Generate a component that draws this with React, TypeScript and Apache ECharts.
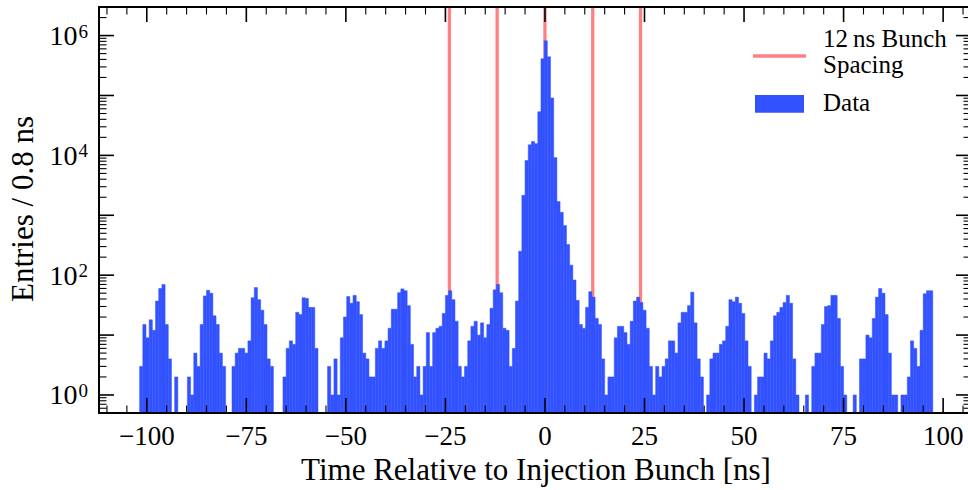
import React, { useEffect, useRef } from "react";
import * as echarts from "echarts";

// ---------------- data ----------------
const BIN_START = -101.8; // ns, left edge of first bin
const BIN_WIDTH = 0.8; // ns
// entries per 0.8 ns bin (249 bins)
const counts: number[] = [
  3, 15, 9, 18, 12, 37, 60, 70, 15, 4,
  0, 2, 0, 0, 0, 2, 1, 5, 3, 15,
  45, 56, 50, 21, 15, 5, 3, 0, 0, 3,
  5, 6, 6, 5, 8, 42, 62, 39, 26, 15,
  4, 3, 0, 0, 0, 2, 6, 8, 7, 24,
  22, 42, 41, 29, 29, 6, 0, 0, 0, 3,
  1, 4, 1, 9, 20, 44, 34, 46, 36, 22,
  5, 4, 2, 2, 6, 8, 6, 8, 13, 27,
  27, 51, 59, 55, 31, 7, 2, 3, 1, 3,
  11, 3, 11, 13, 14, 23, 46, 55, 39, 17,
  3, 2, 3, 8, 14, 17, 10, 16, 9, 15,
  28, 57, 70, 51, 13, 12, 3, 6, 37, 251,
  2150, 8200, 15000, 17000, 15700, 53500, 410000, 816000, 442000, 90600,
  9160, 1690, 1120, 673, 325, 147, 83, 38, 15, 13,
  29, 53, 43, 19, 15, 4, 1, 2, 2, 9,
  14, 14, 11, 7, 17, 37, 43, 35, 26, 13,
  3, 1, 3, 2, 3, 4, 8, 8, 5, 16,
  24, 24, 31, 52, 16, 4, 2, 0, 1, 4,
  5, 5, 7, 8, 14, 39, 36, 43, 34, 23,
  8, 3, 0, 1, 2, 2, 5, 4, 8, 21,
  24, 29, 35, 46, 34, 4, 1, 0, 0, 1,
  0, 3, 5, 5, 15, 30, 31, 46, 46, 19,
  3, 1, 0, 0, 1, 0, 4, 4, 10, 9,
  19, 43, 60, 50, 22, 5, 1, 1, 0, 1,
  1, 2, 8, 6, 3, 12, 49, 55, 55,
];
const bunchLines = [-24, -12, 0, 12, 24];
const xMajorTicks = [-100, -75, -50, -25, 0, 25, 50, 75, 100];
const xMinorTicks = [
  -110, -105, -95, -90, -85, -80, -70, -65, -60, -55, -45, -40, -35, -30, -20,
  -15, -10, -5, 5, 10, 15, 20, 30, 35, 40, 45, 55, 60, 65, 70, 80, 85, 90, 95, 105,
];
const yLabelExponents = [0, 2, 4, 6];
const yMajorTicks = [1, 10, 100, 1000, 10000, 100000, 1000000];
const yMinorTicks = [
  0.6, 0.7, 0.8, 0.9,
  2, 3, 4, 5, 6, 7, 8, 9,
  20, 30, 40, 50, 60, 70, 80, 90,
  200, 300, 400, 500, 600, 700, 800, 900,
  2000, 3000, 4000, 5000, 6000, 7000, 8000, 9000,
  20000, 30000, 40000, 50000, 60000, 70000, 80000, 90000,
  200000, 300000, 400000, 500000, 600000, 700000, 800000, 900000,
  2000000,
];
const X_MIN = -112;
const X_MAX = 107;
const Y_MIN = 0.5;
const Y_MAX = 3e6;
const xTitle = "Time Relative to Injection Bunch [ns]";
const yTitle = "Entries / 0.8 ns";
const legendLineLabel = ["12\u2009ns Bunch", "Spacing"];
const legendBarLabel = "Data";

// ---------------- style ----------------
const SERIF = '"Liberation Serif", "Times New Roman", serif';
const BLUE = "#3352ff";
const RED = "#ff8080";

function fmtX(v: number) {
  return v < 0 ? "\u2212" + Math.abs(v) : String(v);
}

export default function App() {
  const ref = useRef<HTMLDivElement>(null);

  useEffect(() => {
    if (!ref.current) return;
    const chart = echarts.init(ref.current, undefined, { renderer: "svg" });

    const barData = counts
      .map((c, i) => [BIN_START + i * BIN_WIDTH, BIN_START + (i + 1) * BIN_WIDTH, c])
      .filter((d) => d[2] > 0);

    const textStyle = (text: string, size: number, align: string) => ({
      text,
      font: `${size}px ${SERIF}`,
      fill: "#000",
      align,
      verticalAlign: "middle",
      textAlign: align,
      textVerticalAlign: "middle",
    });

    const option: any = {
      animation: false,
      backgroundColor: "#ffffff",
      grid: { left: 99, top: 7, width: 872, height: 406, show: false, outerBoundsMode: "none" },
      xAxis: { type: "value", min: X_MIN, max: X_MAX, show: false },
      yAxis: { type: "log", logBase: 10, min: Y_MIN, max: Y_MAX, show: false },
      series: [
        {
          type: "custom",
          name: "bunch",
          z: 1,
          silent: true,
          data: bunchLines.map((v) => [v, 1]),
          encode: { x: 0, y: 1 },
          renderItem: (params: any, api: any) => {
            const cs = params.coordSys;
            const x = api.coord([api.value(0), 1])[0];
            return {
              type: "line",
              shape: { x1: x, y1: cs.y, x2: x, y2: cs.y + cs.height },
              style: { stroke: RED, lineWidth: 3.3 },
            };
          },
        },
        {
          type: "custom",
          name: "Data",
          z: 2,
          silent: true,
          data: barData,
          encode: { x: [0, 1], y: 2 },
          renderItem: (params: any, api: any) => {
            const p0 = api.coord([api.value(0), api.value(2)]);
            const p1 = api.coord([api.value(1), Y_MIN]);
            return {
              type: "rect",
              shape: { x: p0[0], y: p0[1], width: p1[0] - p0[0], height: p1[1] - p0[1] },
              style: { fill: BLUE, stroke: BLUE, lineWidth: 0.5 },
            };
          },
        },
        {
          type: "custom",
          name: "frame",
          z: 5,
          silent: true,
          data: [[0, 1]],
          encode: { x: 0, y: 1 },
          renderItem: (params: any) => {
            const cs = params.coordSys;
            return {
              type: "rect",
              shape: { x: cs.x, y: cs.y, width: cs.width, height: cs.height },
              style: { fill: "none", stroke: "#000", lineWidth: 2 },
            };
          },
        },
        {
          type: "custom",
          name: "xticks",
          z: 5,
          silent: true,
          data: xMajorTicks.map((v) => [v, 1, 1]).concat(xMinorTicks.map((v) => [v, 1, 0])),
          encode: { x: 0, y: 1 },
          renderItem: (params: any, api: any) => {
            const cs = params.coordSys;
            const major = api.value(2) === 1;
            const len = major ? 15 : 7.5;
            const lw = major ? 1.6 : 1.1;
            const x = api.coord([api.value(0), 1])[0];
            const b = cs.y + cs.height;
            return {
              type: "group",
              children: [
                { type: "line", shape: { x1: x, y1: b, x2: x, y2: b - len }, style: { stroke: "#000", lineWidth: lw } },
                { type: "line", shape: { x1: x, y1: cs.y, x2: x, y2: cs.y + len }, style: { stroke: "#000", lineWidth: lw } },
              ],
            };
          },
        },
        {
          type: "custom",
          name: "yticks",
          z: 5,
          silent: true,
          data: yMajorTicks.map((v) => [X_MIN, v, 1]).concat(yMinorTicks.map((v) => [X_MIN, v, 0])),
          encode: { x: 0, y: 1 },
          renderItem: (params: any, api: any) => {
            const cs = params.coordSys;
            const major = api.value(2) === 1;
            const len = major ? 15 : 7.5;
            const lw = major ? 1.6 : 1.1;
            const y = api.coord([X_MIN, api.value(1)])[1];
            const r = cs.x + cs.width;
            return {
              type: "group",
              children: [
                { type: "line", shape: { x1: cs.x, y1: y, x2: cs.x + len, y2: y }, style: { stroke: "#000", lineWidth: lw } },
                { type: "line", shape: { x1: r, y1: y, x2: r - len, y2: y }, style: { stroke: "#000", lineWidth: lw } },
              ],
            };
          },
        },
        {
          type: "custom",
          name: "xlabels",
          z: 5,
          silent: true,
          data: xMajorTicks.map((v) => [v, 1]),
          encode: { x: 0, y: 1 },
          renderItem: (params: any, api: any) => {
            const cs = params.coordSys;
            const v = api.value(0);
            const x = api.coord([v, 1])[0];
            return {
              type: "text",
              x: x,
              y: cs.y + cs.height + 23,
              style: textStyle(fmtX(v), 27, "center"),
            };
          },
        },
        {
          type: "custom",
          name: "ylabels",
          z: 5,
          silent: true,
          data: yLabelExponents.map((e) => [X_MIN, Math.pow(10, e), e]),
          encode: { x: 0, y: 1 },
          renderItem: (params: any, api: any) => {
            const cs = params.coordSys;
            const y = api.coord([X_MIN, api.value(1)])[1];
            return {
              type: "text",
              x: cs.x - 11,
              y: y,
              style: {
                text: `{b|10}{s|${api.value(2)}}`,
                fill: "#000",
                align: "right",
                verticalAlign: "middle",
                textAlign: "right",
                textVerticalAlign: "middle",
                rich: {
                  b: { fontFamily: SERIF, fontSize: 28, lineHeight: 30, fill: "#000" },
                  s: { fontFamily: SERIF, fontSize: 19, lineHeight: 20, verticalAlign: "top", padding: [1, 0, 0, 1], fill: "#000" },
                },
              },
            };
          },
        },
      ],
      graphic: [
        { type: "text", x: 536, y: 469.5, style: textStyle(xTitle, 31, "center") },
        { type: "text", x: 22.5, y: 209, rotation: Math.PI / 2, style: textStyle(yTitle, 31, "center") },
        { type: "line", shape: { x1: 753, y1: 56, x2: 806, y2: 56 }, style: { stroke: RED, lineWidth: 3.3 } },
        { type: "text", x: 823, y: 38.2, style: textStyle(legendLineLabel[0], 25, "left") },
        { type: "text", x: 823, y: 64.2, style: textStyle(legendLineLabel[1], 25, "left") },
        { type: "rect", shape: { x: 755, y: 95, width: 49, height: 17.7 }, style: { fill: BLUE } },
        { type: "text", x: 823, y: 102.5, style: textStyle(legendBarLabel, 25, "left") },
      ],
    };

    chart.setOption(option);
    return () => chart.dispose();
  }, []);

  return (
    <div
      ref={ref}
      style={{ position: "fixed", left: 0, top: 0, width: 968, height: 490, overflow: "hidden", background: "#fff" }}
    />
  );
}
